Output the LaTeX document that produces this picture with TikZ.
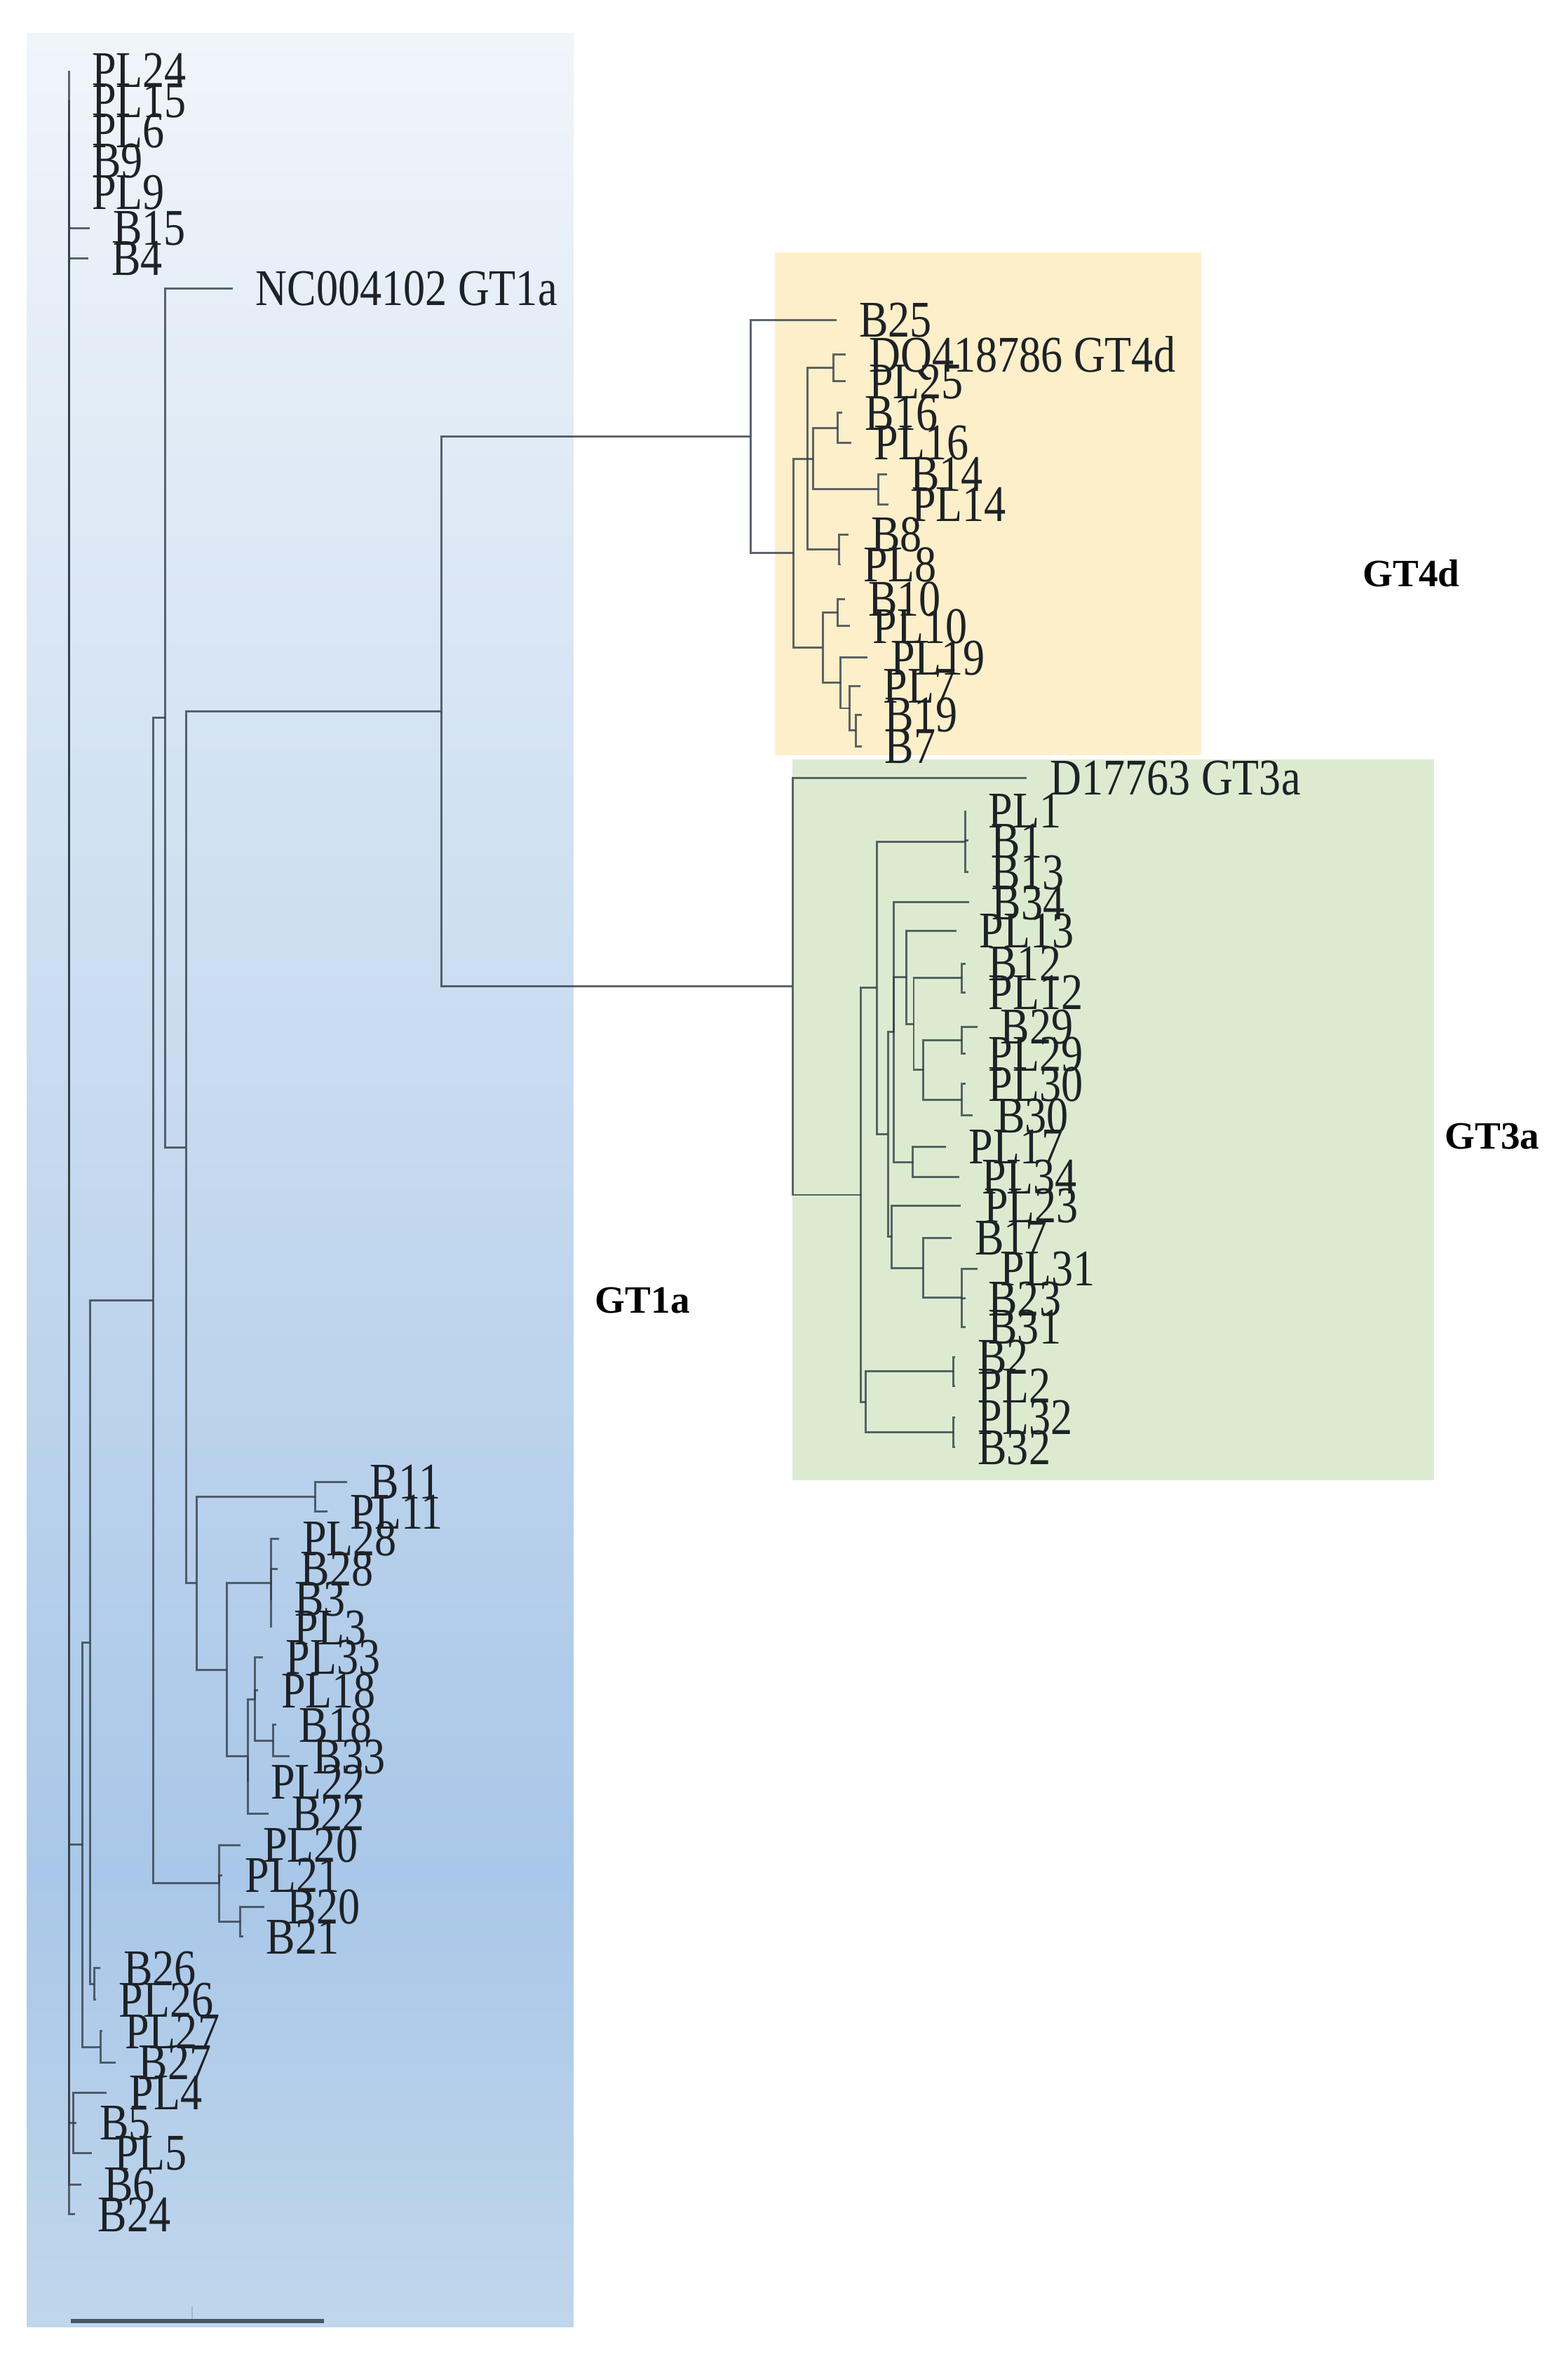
\documentclass[tikz,border=0pt]{standalone}
\usepackage{graphicx}
\usepackage{fontspec}
\setmainfont{Liberation Serif}
\definecolor{bluetop}{HTML}{F0F5FA}
\definecolor{bluemid}{HTML}{A9C7E8}
\definecolor{bluebot}{HTML}{C0D6EC}
\definecolor{orangebg}{HTML}{FCEFCA}
\definecolor{greenbg}{HTML}{DCEBD0}
\definecolor{linecol}{HTML}{36404A}
\definecolor{txtcol}{HTML}{1E2226}
\tikzset{
  branch/.style={draw=linecol, line width=0.85pt, draw opacity=0.8},
  lbl/.style={anchor=west, inner sep=0pt, text depth=0pt, text=txtcol, font=\fontsize{17.7pt}{18pt}\selectfont},
  clade/.style={inner sep=0pt, text=black, font=\fontsize{15.7pt}{16pt}\selectfont\bfseries},
}
\newcommand\tallt[1]{\scalebox{1}[1.18]{#1}}
\newcommand\leaf[5]{%
  \coordinate (#2) at (#3,#4);
  \draw[branch] (#1) |- (#2);
  \node[lbl] (#2-l) at (#3+15,#4) {\tallt{#5}};}
\newcommand\inode[4]{%
  \coordinate (#2) at (#3,#4);
  \draw[branch] (#1) |- (#2);}
\begin{document}
\begin{tikzpicture}[x=0.021418cm, y=-0.021418cm]
\useasboundingbox (0,0) rectangle (1044,1568);
\fill[white] (0,0) rectangle (1044,1568);
% backgrounds
\shade[top color=bluetop, bottom color=bluemid] (18,22) rectangle (382,1250);
\shade[top color=bluemid, bottom color=bluebot] (18,1249.5) rectangle (382,1550);
\fill[orangebg] (516,168) rectangle (800,503);
\fill[greenbg] (528,506) rectangle (955,986);

% tree
\coordinate (root) at (46,761);
\leaf{root}{PL24}{46}{47}{PL24}
\leaf{root}{PL15}{46}{67}{PL15}
\leaf{root}{PL6}{46}{87}{PL6}
\leaf{root}{B9}{46}{107}{B9}
\leaf{root}{PL9}{46}{128}{PL9}
\leaf{root}{B15}{60}{152}{B15}
\leaf{root}{B4}{59}{172}{B4}
\inode{root}{E}{55}{1228.7}
\inode{E}{D}{60}{1093.9}
\inode{D}{C}{102}{866.3}
\inode{C}{A}{110}{478.1}
\leaf{A}{NC}{155}{192}{NC004102 GT1a}
\inode{A}{Bn}{124}{764.2}
\inode{Bn}{S}{294}{473.8}
% GT4d
\inode{S}{T}{500}{290.7}
\leaf{T}{B25}{557}{213}{B25}
\inode{T}{V}{528.5}{368.5}
\inode{V}{W}{538}{305.5}
\inode{W}{X}{555}{245}
\leaf{X}{DQ}{563.5}{236}{DQ418786 GT4d}
\leaf{X}{PL25}{563.5}{254}{PL25}
\inode{W}{Y}{541.6}{305.5}
\inode{Y}{AA}{558}{285}
\leaf{AA}{B16}{561}{275}{B16}
\leaf{AA}{PL16}{567}{295}{PL16}
\inode{Y}{AB}{585}{326}
\leaf{AB}{B14}{591}{316}{B14}
\leaf{AB}{PL14}{592}{336}{PL14}
\inode{W}{AC}{559}{366}
\leaf{AC}{B8}{565}{356}{B8}
\leaf{AC}{PL8}{560}{376}{PL8}
\inode{V}{AD}{548}{431.4}
\inode{AD}{AE}{558}{408}
\leaf{AE}{B10}{563}{399}{B10}
\leaf{AE}{PL10}{566}{417}{PL10}
\inode{AD}{AF}{560}{454.9}
\leaf{AF}{PL19}{578}{438}{PL19}
\inode{AF}{AG}{566}{471.75}
\leaf{AG}{PL7}{573}{457}{PL7}
\inode{AG}{AH}{570}{486.5}
\leaf{AH}{B19}{574}{476}{B19}
\leaf{AH}{B7}{574}{497}{B7}
% GT3a
\inode{S}{U}{528}{657}
\leaf{U}{D17}{684}{518}{D17763 GT3a}
\inode{U}{AI}{573.5}{795.9}
\inode{AI}{AJ}{584}{658}
\inode{AJ}{AK}{643}{560.5}
\leaf{AK}{PL1}{643}{540}{PL1}
\leaf{AK}{B1}{645}{560}{B1}
\leaf{AK}{B13}{645}{581}{B13}
\inode{AJ}{AL}{591.4}{755.6}
\inode{AL}{AM}{595.5}{687.5}
\leaf{AM}{B34}{645.5}{601}{B34}
\inode{AM}{AN}{603.7}{651}
\leaf{AN}{PL13}{637}{620}{PL13}
\inode{AN}{AP}{608.6}{682.1}
\inode{AP}{AQ}{640.6}{651.5}
\leaf{AQ}{B12}{643}{642}{B12}
\leaf{AQ}{PL12}{643}{661}{PL12}
\inode{AP}{AR}{615}{712.75}
\inode{AR}{AS}{640.6}{693}
\leaf{AS}{B29}{651}{684}{B29}
\leaf{AS}{PL29}{643}{702}{PL29}
\inode{AR}{AT}{640.6}{732.5}
\leaf{AT}{PL30}{643}{722}{PL30}
\leaf{AT}{B30}{648}{743}{B30}
\inode{AM}{AO}{608}{774}
\leaf{AO}{PL17}{630}{764}{PL17}
\leaf{AO}{PL34}{639}{784}{PL34}
\inode{AL}{AU}{594}{823.8}
\leaf{AU}{PL23}{640}{803}{PL23}
\inode{AU}{AV}{615}{844.5}
\leaf{AV}{B17}{634}{824.6}{B17}
\inode{AV}{AW}{640.6}{864.5}
\leaf{AW}{PL31}{651}{845}{PL31}
\leaf{AW}{B23}{643}{865}{B23}
\leaf{AW}{B31}{643}{884}{B31}
\inode{AI}{AX}{576.7}{933.75}
\inode{AX}{AY}{635}{913.5}
\leaf{AY}{B2}{636}{904}{B2}
\leaf{AY}{PL2}{636}{923}{PL2}
\inode{AX}{AZ}{635}{954}
\leaf{AZ}{PL32}{636}{944}{PL32}
\leaf{AZ}{B32}{636}{964}{B32}
% GT1a lower clades
\inode{Bn}{K}{131}{1054.6}
\inode{K}{L}{210}{997}
\leaf{L}{B11}{231}{987}{B11}
\leaf{L}{PL11}{218}{1007}{PL11}
\inode{K}{M}{151}{1112.2}
\inode{M}{N}{180.5}{1054.5}
\leaf{N}{PL28}{186}{1025}{PL28}
\leaf{N}{B28}{185}{1045}{B28}
\leaf{N}{B3}{181}{1065}{B3}
\leaf{N}{PL3}{180.5}{1084}{PL3}
\inode{M}{O}{165}{1169.9}
\inode{O}{P}{170}{1131.75}
\leaf{P}{PL33}{175}{1104}{PL33}
\leaf{P}{PL18}{172}{1126}{PL18}
\inode{P}{Q}{182}{1159.5}
\leaf{Q}{B18}{184}{1149}{B18}
\leaf{Q}{B33}{193}{1170}{B33}
\leaf{O}{PL22}{165}{1187}{PL22}
\leaf{O}{B22}{179}{1208}{B22}
\inode{C}{I}{146}{1254.5}
\leaf{I}{PL20}{160}{1229}{PL20}
\leaf{I}{PL21}{148}{1249}{PL21}
\inode{I}{J}{160}{1280}
\leaf{J}{B20}{176}{1270}{B20}
\leaf{J}{B21}{162}{1290}{B21}
\inode{D}{F}{63}{1321.5}
\leaf{F}{B26}{67}{1311}{B26}
\leaf{F}{PL26}{64}{1332}{PL26}
\inode{E}{G}{67}{1363.5}
\leaf{G}{PL27}{68}{1353}{PL27}
\leaf{G}{B27}{77}{1374}{B27}
\inode{root}{H}{49}{1414}
\leaf{H}{PL4}{71}{1394}{PL4}
\leaf{H}{B5}{51}{1414}{B5}
\leaf{H}{PL5}{61}{1434}{PL5}
\leaf{root}{B6}{54}{1455}{B6}
\leaf{root}{B24}{50}{1475}{B24}

% clade labels
\node[clade] (gt4d) at (940,382) {GT4d};
\node[clade] (gt3a) at (994,757) {GT3a};
\node[clade] (gt1a) at (428,866) {GT1a};

% scale bar
\coordinate (sb1) at (47,1546);
\coordinate (sb2) at (216,1546);
\coordinate (sbt1) at (128,1536);
\coordinate (sbt2) at (128,1545);
\draw[draw=linecol, line width=1.6pt, draw opacity=0.85] (sb1) -- (sb2);
\draw[draw=linecol, line width=0.5pt, draw opacity=0.2] (sbt1) -- (sbt2);
\end{tikzpicture}
\end{document}
